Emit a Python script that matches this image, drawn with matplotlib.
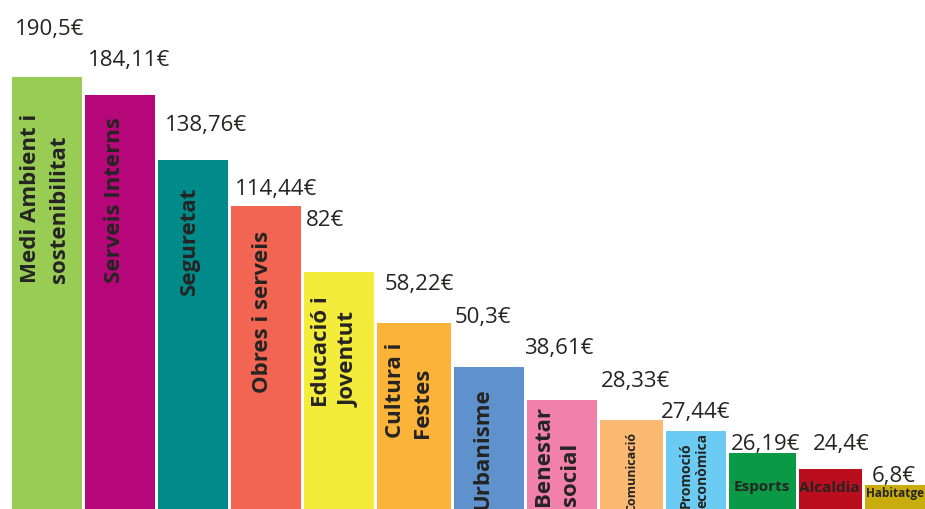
import numpy as np
import matplotlib.pyplot as plt

# despesa per area (euros per habitant)
areas = ["Medi Ambient i\nsostenibilitat", "Serveis Interns", "Seguretat",
         "Obres i serveis", "Educació i\nJoventut", "Cultura i\nFestes",
         "Urbanisme", "Benestar\nsocial", "Comunicació", "Promoció\neconòmica",
         "Esports", "Alcaldia", "Habitatge"]
values = [190.5, 184.11, 138.76, 114.44, 82, 58.22, 50.3, 38.61,
          28.33, 27.44, 26.19, 24.4, 6.8]
value_labels = ["190,5€", "184,11€", "138,76€", "114,44€", "82€", "58,22€",
                "50,3€", "38,61€", "28,33€", "27,44€", "26,19€", "24,4€", "6,8€"]
# visible bar heights as drawn in the infographic (not proportional)
bar_heights = [432, 414, 349, 303, 237, 186, 142, 109, 89, 78, 56, 40, 24]

colors = ["#99CC55", "#B5077A", "#008A8A", "#F26552", "#F4EC3A", "#FBB33A",
          "#5F92CD", "#F181A9", "#FBB971", "#6CCBF3", "#0A9A45", "#BA0E1E",
          "#C9AD0F"]
widths = np.array([70, 70, 70, 70, 70, 74, 70, 70, 63, 60, 67, 63, 60])
gap = 3
lefts = 12 + np.concatenate([[0], np.cumsum(widths + gap)[:-1]])
centers = lefts + widths / 2

# label placement (style only)
val_gap = [43, 30, 30, 12, 47, 34, 45, 47, 34, 14, 4, 20, 4]
val_dx = [3, 3, 7, 4, 2, 8, 1, -3, 1, -5, 2, 14, 7]
cat_dx = [-2, -6, -4, -4, -4, -5, -6, -5, 0, -2, -1, -1, 0]
cat_y = [227, 227, 215, 117, 103, 72, 0, 4, -2, 2, 23, 22, 16]
cat_size = [16, 16, 16, 16, 16, 16, 16, 16, 9, 10, 11, 11, 8.5]
cat_rot = [90] * 10 + [0] * 3
cat_ls = [1.5, 1.35, 1.35, 1.35, 1.4, 1.4, 1.35, 1.4, 1.35, 1.3, 1, 1, 1]

plt.rcParams['font.family'] = ['Open Sans', 'DejaVu Sans']
fig = plt.figure(figsize=(9.25, 5.1), dpi=100)
ax = fig.add_axes([0, 0, 1, 1])
ax.bar(lefts, bar_heights, width=widths, align="edge", color=colors)
for i in range(len(values)):
    ax.text(lefts[i] + val_dx[i], bar_heights[i] + val_gap[i], value_labels[i],
            fontsize=16, color="#252423", ha="left", va="baseline")
    if cat_rot[i] == 90:
        ax.text(centers[i] + cat_dx[i], cat_y[i], areas[i], rotation=90,
                rotation_mode="anchor", ha="left", va="center",
                multialignment="left", linespacing=cat_ls[i],
                fontsize=cat_size[i], fontweight="bold", color="#252423")
    else:
        ax.text(centers[i] + cat_dx[i], cat_y[i], areas[i], ha="center",
                va="center", fontsize=cat_size[i], fontweight="bold",
                color="#252423")
ax.set_xlim(0, 925)
ax.set_ylim(0, 510)
ax.axis("off")
fig.savefig("out.png", dpi=100)
